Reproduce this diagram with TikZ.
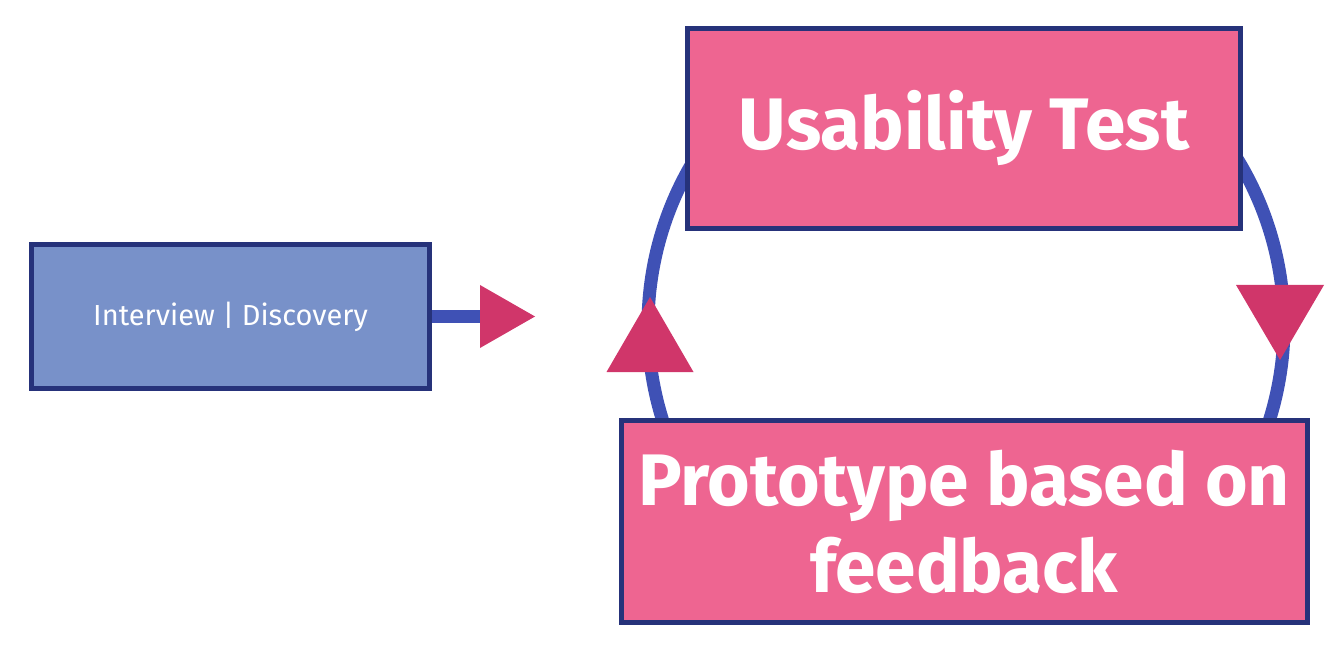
\documentclass[tikz,border=0pt]{standalone}
\usepackage{fontspec}
\setmainfont{Fira Sans}
\usetikzlibrary{positioning}

\definecolor{navy}{HTML}{26327A}
\definecolor{loopblue}{HTML}{3F51B5}
\definecolor{boxblue}{HTML}{7891C9}
\definecolor{boxpink}{HTML}{EE6591}
\definecolor{tippink}{HTML}{D0366A}

\begin{document}
\begin{tikzpicture}[x=1pt, y=1pt,
			stage/.style={rectangle, draw=navy, line width=5pt, fill=boxpink, text=white, inner sep=0pt, align=center, font=\bfseries\fontsize{73}{87}\selectfont},
			startbox/.style={rectangle, draw=navy, line width=5pt, fill=boxblue, text=white, inner sep=0pt, font=\fontsize{29}{34}\selectfont},
			link/.style={loopblue, line width=13pt},
			tip/.style={fill=tippink}
			]
			\useasboundingbox (0,0) rectangle (1332,662);
			
			% Kreislauf hinter den Kaesten
			\coordinate (loop) at (966,337);
			\draw[link] ([shift={(150:318)}]loop) arc[start angle=150, end angle=205, radius=318];
			\draw[link] ([shift={(35:318)}]loop) arc[start angle=35, end angle=-25, radius=318];
			
			% Einstieg links
			\node[startbox, minimum width=398pt, minimum height=144pt] (interview) at (230.5,345.5) {Interview | Discovery};
			
			% Die beiden Stationen
			\node[stage, minimum width=553pt, minimum height=200pt] (usability) at (964,533.5) {Usability Test};
			\node[stage, minimum width=686pt, minimum height=202pt, below=187pt of usability] (proto) {Prototype based on\\feedback};
			
			% Pfeil vom Einstieg
			\coordinate (tipA) at (535,345.5);
			\coordinate[left=55pt of tipA] (baseA);
			\draw[link] (interview.east) -- (baseA);
			\fill[tip] ([yshift=31.5pt]baseA) -- (tipA) -- ([yshift=-31.5pt]baseA) -- cycle;
			
			% Pfeilspitzen auf dem Kreis
			\coordinate (tipL) at (650,365);
			\coordinate[below=75pt of tipL] (baseL);
			\fill[tip] ([xshift=-43.5pt]baseL) -- (tipL) -- ([xshift=43.5pt]baseL) -- cycle;
			\coordinate (tipR) at (1280,302);
			\coordinate[above=75pt of tipR] (baseR);
			\fill[tip] ([xshift=-44pt]baseR) -- (tipR) -- ([xshift=44pt]baseR) -- cycle;
			
		\end{tikzpicture}
\end{document}
